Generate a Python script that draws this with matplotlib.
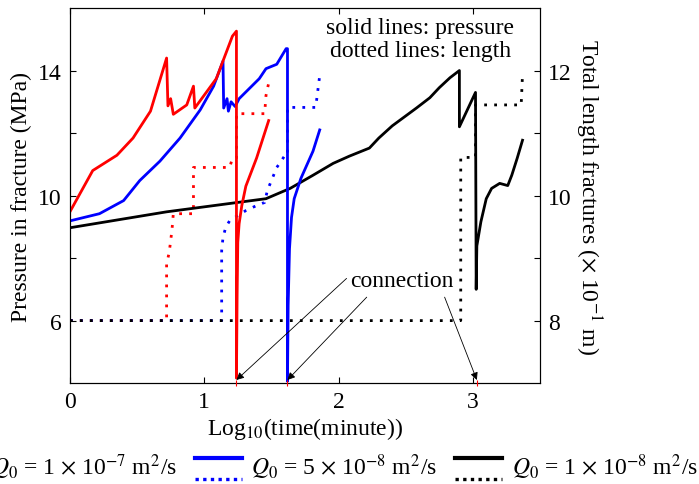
import matplotlib
matplotlib.use("Agg")
from matplotlib import pyplot as plt
from matplotlib.lines import Line2D
from matplotlib.legend_handler import HandlerBase

plt.rcParams['font.family'] = ['Liberation Serif', 'DejaVu Serif']
plt.rcParams['mathtext.fontset'] = 'stix'
plt.rcParams['font.size'] = 17

# pressure (MPa), solid lines, left axis
red_p_x = [0.0, 0.17, 0.35, 0.47, 0.60, 0.72, 0.73, 0.75, 0.77, 0.87, 0.92, 0.93,
           1.09, 1.21, 1.24, 1.24, 1.245, 1.25, 1.26, 1.28, 1.31, 1.39, 1.48]
red_p_y = [9.48, 10.8, 11.29, 11.84, 12.7, 14.4, 12.87, 13.1, 12.6, 12.9, 13.5, 12.8,
           13.74, 15.1, 15.26, 4.16, 6.8, 8.5, 9.1, 9.68, 10.3, 11.2, 12.4]

blue_p_x = [0.0, 0.22, 0.40, 0.52, 0.67, 0.82, 0.97, 1.07, 1.14, 1.145, 1.17, 1.18,
            1.20, 1.23, 1.26, 1.41, 1.46, 1.54, 1.61, 1.62, 1.62, 1.625, 1.635, 1.65, 1.67,
            1.72, 1.81, 1.86]
blue_p_y = [9.19, 9.42, 9.84, 10.48, 11.1, 11.84, 12.74, 13.5, 14.3, 12.8, 13.1, 12.7,
            13.0, 12.85, 13.1, 13.74, 14.06, 14.2, 14.7, 14.7, 4.06, 6.5, 8.3, 9.3, 9.9,
            10.55, 11.42, 12.1]

black_p_x = [0.0, 0.72, 1.46, 1.64, 1.81, 1.96, 2.08, 2.23, 2.30, 2.40, 2.58, 2.68,
             2.75, 2.83, 2.90, 2.90, 3.02, 3.025, 3.03, 3.06, 3.10, 3.14, 3.20, 3.26,
             3.29, 3.33, 3.37]
black_p_y = [8.97, 9.48, 9.9, 10.23, 10.65, 11.03, 11.26, 11.52, 11.84, 12.23, 12.8, 13.13,
             13.45, 13.77, 14.0, 12.2, 13.3, 7.0, 8.39, 9.16, 9.9, 10.23, 10.39, 10.32,
             10.65, 11.19, 11.77]

# total fracture length (x 10^-1 m), dotted lines, right axis
red_l_x = [0.0, 0.72, 0.72, 0.74, 0.76, 0.77, 0.92, 0.92, 1.19, 1.21, 1.24, 1.24,
           1.45, 1.46, 1.48]
red_l_y = [8.0, 8.0, 8.9, 9.1, 9.45, 9.71, 9.71, 10.45, 10.45, 10.6, 10.6, 11.31,
           11.31, 11.6, 11.8]

blue_l_x = [0.0, 1.13, 1.13, 1.14, 1.16, 1.19, 1.31, 1.39, 1.45, 1.47, 1.51, 1.54,
            1.56, 1.60, 1.62, 1.62, 1.83, 1.86]
blue_l_y = [8.0, 8.0, 9.12, 9.33, 9.49, 9.6, 9.76, 9.84, 9.89, 10.08, 10.29, 10.45,
            10.51, 10.64, 10.64, 11.41, 11.41, 11.92]

black_l_x = [0.0, 2.89, 2.91, 2.91, 2.98, 3.02, 3.02, 3.36, 3.37]
black_l_y = [8.0, 8.0, 8.0, 10.61, 10.61, 10.61, 11.45, 11.45, 11.94]

connection_x = [1.24, 1.62, 3.03]

legend_labels = [r'$Q_0$ = 1 $\times$ 10$^{-7}$ m$^2$/s',
                 r'$Q_0$ = 5 $\times$ 10$^{-8}$ m$^2$/s',
                 r'$Q_0$ = 1 $\times$ 10$^{-8}$ m$^2$/s']
colors = ['#ff0000', '#0000ff', '#000000']

dots = (0, (1, 2.6))

fig = plt.figure(figsize=(6.99, 4.85), dpi=100)
ax = fig.add_axes([0.1, 0.208, 0.6725, 0.7734])
ax2 = ax.twinx()
ax.set_zorder(ax2.get_zorder() + 1)
ax.patch.set_visible(False)

for xs, ys, c in [(red_l_x, red_l_y, colors[0]), (blue_l_x, blue_l_y, colors[1]),
                  (black_l_x, black_l_y, colors[2])]:
    ax2.plot(xs, ys, color=c, lw=2, linestyle=dots)

for xs, ys, c in [(black_p_x, black_p_y, colors[2]), (blue_p_x, blue_p_y, colors[1]),
                  (red_p_x, red_p_y, colors[0])]:
    ax.plot(xs, ys, color=c, lw=2)

ax.set_xlim(0, 3.5)
ax.set_ylim(4, 16)
ax2.set_ylim(7, 13)

ax.set_xticks([0, 1, 2, 3])
ax.set_yticks([6, 8, 10, 12, 14])
ax.set_yticklabels(['6', '', '10', '', '14'])
ax2.set_yticks([8, 9, 10, 11, 12])
ax2.set_yticklabels(['8', '', '10', '', '12'])
ax.tick_params(direction='in', top=True, length=4, width=0.8, pad=6)
ax2.tick_params(direction='in', length=4, width=0.8, pad=6)

ax.set_xlabel('Log$_{10}$(time(minute))', labelpad=2)
ax.set_ylabel('Pressure in fracture (MPa)', labelpad=4)
ax2.set_ylabel(r'Total length fractures ($\times$ 10$^{-1}$ m)', rotation=270, labelpad=23)

for s in ax.spines.values():
    s.set_linewidth(0.8)

# connection markers on the time axis
ax.plot(connection_x, [4] * len(connection_x), linestyle='none', marker='|',
        color='#ff0000', markersize=5, markeredgewidth=0.8, clip_on=False, zorder=5)

ax.text(2.47, 7.29, 'connection', ha='center', va='center')
arrow = dict(arrowstyle='-|>', color='k', lw=0.6, mutation_scale=11, shrinkA=0, shrinkB=0)
ax.annotate('', xy=(connection_x[0], 4.1), xytext=(2.06, 7.35), arrowprops=arrow)
ax.annotate('', xy=(connection_x[1], 4.1), xytext=(2.21, 6.75), arrowprops=arrow)
ax.annotate('', xy=(connection_x[2], 4.1), xytext=(2.79, 6.75), arrowprops=arrow)

ax.text(0.745, 0.975, 'solid lines: pressure\ndotted lines: length',
        transform=ax.transAxes, ha='center', va='top', linespacing=1.1)


class TwoLineHandler(HandlerBase):
    def create_artists(self, legend, orig_handle, xdescent, ydescent, width, height,
                       fontsize, trans):
        c = orig_handle
        top = Line2D([0, width], [1.0 * height] * 2, color=c, lw=3)
        bot = Line2D([0, width], [-0.3 * height] * 2, color=c, lw=2.4, linestyle=(0, (1, 1.3)))
        top.set_transform(trans)
        bot.set_transform(trans)
        return [top, bot]


fig.legend(colors, legend_labels, handler_map={str: TwoLineHandler()},
           loc='center', bbox_to_anchor=(0.452, 0.036), ncol=3, frameon=False,
           handlelength=2.0, handletextpad=0.4, columnspacing=0.75)

fig.savefig('out.png', dpi=100)
